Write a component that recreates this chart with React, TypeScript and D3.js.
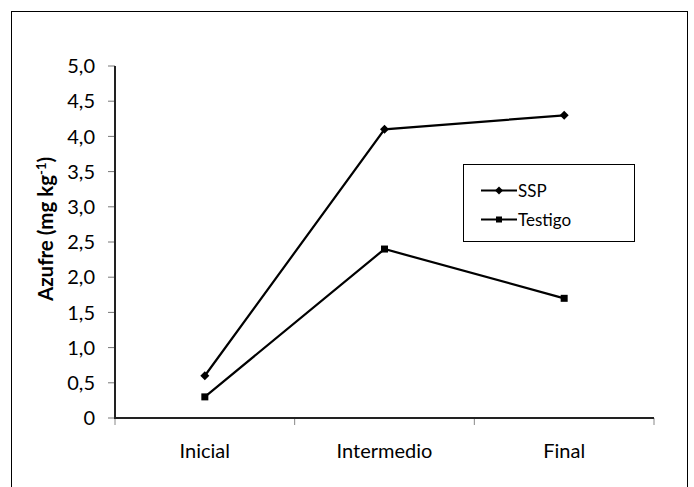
import React from "react";
import * as d3 from "d3";

const categories = ["Inicial", "Intermedio", "Final"];
const sspValues = [0.6, 4.1, 4.3];
const testigoValues = [0.3, 2.4, 1.7];
const yTicks = [0, 0.5, 1, 1.5, 2, 2.5, 3, 3.5, 4, 4.5, 5];
const seriesNames = ["SSP", "Testigo"];

const W = 694;
const H = 487;
const FONT = "Lato, 'DejaVu Sans', sans-serif";

export default function App() {
  const left = 115;
  const right = 654;
  const top = 66;
  const bottom = 418;

  const x = d3.scaleBand<string>().domain(categories).range([left, right]).padding(0);
  const y = d3.scaleLinear().domain([0, 5]).range([bottom, top]);
  const cx = (c: string) => (x(c) ?? 0) + x.bandwidth() / 2;

  const line = d3
    .line<number>()
    .x((_, i) => cx(categories[i]))
    .y((d) => y(d));

  const fmt = (v: number) => (v === 0 ? "0" : d3.format(".1f")(v).replace(".", ","));

  const diamond = (px: number, py: number, r = 4.5) =>
    `M${px},${py - r}L${px + r},${py}L${px},${py + r}L${px - r},${py}Z`;

  const boundaries = [left, ...categories.map((c) => (x(c) ?? 0) + x.bandwidth())];

  const legX = 463;
  const legY = 164;
  const rows = [190.5, 219.5];

  return (
    <svg
      width={W}
      height={H}
      style={{ position: "absolute", left: 0, top: 0, background: "#fff" }}
      fontFamily={FONT}
    >
      <rect x={0} y={0} width={W} height={H} fill="#fff" />
      <rect x={11.5} y={11.5} width={676} height={495} fill="none" stroke="#000" strokeWidth={1} />

      {/* y ticks */}
      {yTicks.map((t) => (
        <g key={t}>
          <line x1={108} x2={left} y1={y(t)} y2={y(t)} stroke="#777" strokeWidth={1} />
          <text x={95} y={y(t)} dy="0.36em" textAnchor="end" fontSize={20} fill="#000">
            {fmt(t)}
          </text>
        </g>
      ))}
      {/* x ticks */}
      {boundaries.map((b, i) => (
        <line key={i} x1={b} x2={b} y1={bottom} y2={bottom + 7} stroke="#888" strokeWidth={1} />
      ))}
      {/* axes */}
      <line x1={left} x2={left} y1={top} y2={bottom + 1} stroke="#222" strokeWidth={2} />
      <line x1={left} x2={right} y1={bottom} y2={bottom} stroke="#222" strokeWidth={2} />

      {/* x labels */}
      {categories.map((c) => (
        <text key={c} x={cx(c)} y={458} textAnchor="middle" fontSize={20} fill="#000">
          {c}
        </text>
      ))}

      {/* y title */}
      <text
        transform={`translate(53,229) rotate(-90)`}
        textAnchor="middle"
        fontSize={20.5}
        fontWeight="bold"
        fill="#000"
      >
        Azufre (mg kg
        <tspan dy={-7} fontSize={13}>-1</tspan>
        <tspan dy={7}>)</tspan>
      </text>

      {/* series */}
      <path d={line(sspValues) ?? ""} fill="none" stroke="#000" strokeWidth={2.2} />
      <path d={line(testigoValues) ?? ""} fill="none" stroke="#000" strokeWidth={2.2} />
      {sspValues.map((v, i) => (
        <path key={"s" + i} d={diamond(cx(categories[i]), y(v))} fill="#000" />
      ))}
      {testigoValues.map((v, i) => (
        <rect
          key={"t" + i}
          x={cx(categories[i]) - 3.5}
          y={y(v) - 3.5}
          width={7}
          height={7}
          fill="#000"
        />
      ))}

      {/* legend */}
      <rect x={legX + 0.5} y={legY + 0.5} width={171} height={77} fill="#fff" stroke="#000" strokeWidth={1} />
      {seriesNames.map((n, i) => (
        <g key={n}>
          <line x1={481} x2={517} y1={rows[i]} y2={rows[i]} stroke="#000" strokeWidth={2} />
          {i === 0 ? (
            <path d={diamond(499, rows[i], 4)} fill="#000" />
          ) : (
            <rect x={496} y={rows[i] - 3} width={6} height={6} fill="#000" />
          )}
          <text x={518} y={rows[i]} dy="0.36em" fontSize={17} fill="#000">
            {n}
          </text>
        </g>
      ))}
    </svg>
  );
}
